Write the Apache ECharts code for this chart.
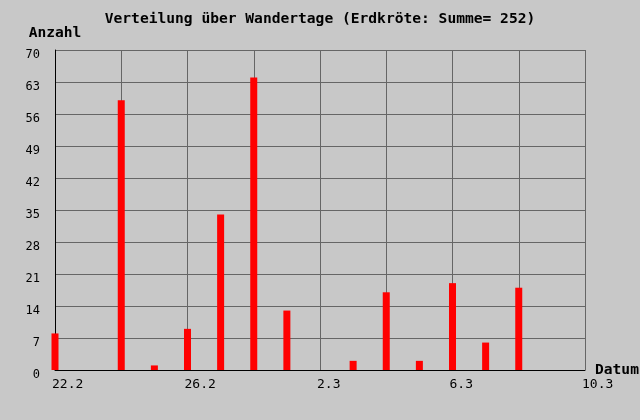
<!DOCTYPE html>
<html>
<head>
<meta charset="utf-8">
<script src="https://cdn.jsdelivr.net/npm/echarts@6/dist/echarts.min.js"></script>
<style>
  html, body { margin: 0; padding: 0; background: #c8c8c8; }
  #chart { width: 640px; height: 420px; }
</style>
</head>
<body>
<div id="chart"></div>
<script>
// Wandertage (17 Tage, 22.2 - 10.3)
let days = ['22.2', '23.2', '24.2', '25.2', '26.2', '27.2', '28.2', '1.3', '2.3',
            '3.3', '4.3', '5.3', '6.3', '7.3', '8.3', '9.3', '10.3'];
// Anzahl Erdkröten pro Tag
let counts = [8, 0, 59, 1, 9, 34, 64, 13, 0, 2, 17, 2, 19, 6, 18, 0, 0];
let yTicks = [0, 7, 14, 21, 28, 35, 42, 49, 56, 63, 70];

let total = counts.reduce(function (a, b) { return a + b; }, 0);
let mono = 'DejaVu Sans Mono';

let option = {
  backgroundColor: '#c8c8c8',
  animation: false,
  title: {
    text: 'Verteilung über Wandertage (Erdkröte: Summe= ' + total + ')',
    left: 'center',
    top: 7,
    textStyle: {
      fontFamily: mono,
      fontSize: 14.6,
      fontWeight: 'bold',
      color: '#000'
    }
  },
  grid: {
    left: 55,
    right: 55,
    top: 50,
    height: 320,
    outerBoundsMode: 'none'
  },
  xAxis: {
    type: 'category',
    data: days,
    boundaryGap: false,
    name: 'Datum',
    nameLocation: 'end',
    nameGap: 10,
    nameTextStyle: {
      fontFamily: mono,
      fontSize: 14.6,
      fontWeight: 'bold',
      color: '#000',
      verticalAlign: 'middle',
      padding: [0, 0, 4, 0]
    },
    axisLine: { show: true, lineStyle: { color: '#000', width: 1 } },
    axisTick: { show: false },
    axisLabel: {
      interval: 3,
      align: 'left',
      margin: 8,
      padding: [0, 0, 0, -3],
      fontFamily: mono,
      fontSize: 13,
      color: '#000'
    },
    splitLine: {
      show: true,
      interval: 1,
      lineStyle: { color: '#666', width: 1 }
    }
  },
  yAxis: {
    type: 'value',
    min: yTicks[0],
    max: yTicks[yTicks.length - 1],
    interval: 7,
    name: 'Anzahl',
    nameLocation: 'end',
    nameGap: 9,
    nameTextStyle: {
      fontFamily: mono,
      fontSize: 14.6,
      fontWeight: 'bold',
      color: '#000',
      align: 'center'
    },
    axisLine: { show: true, lineStyle: { color: '#000', width: 1 } },
    axisTick: { show: false },
    axisLabel: {
      margin: 15,
      verticalAlign: 'top',
      lineHeight: 10,
      fontFamily: mono,
      fontSize: 12,
      color: '#000'
    },
    splitLine: {
      show: true,
      lineStyle: { color: '#666', width: 1 }
    }
  },
  series: [
    {
      type: 'bar',
      data: counts,
      barWidth: 7,
      itemStyle: { color: '#ff0000' }
    }
  ]
};

let chart = echarts.init(document.getElementById('chart'));
chart.setOption(option);
</script>
</body>
</html>
